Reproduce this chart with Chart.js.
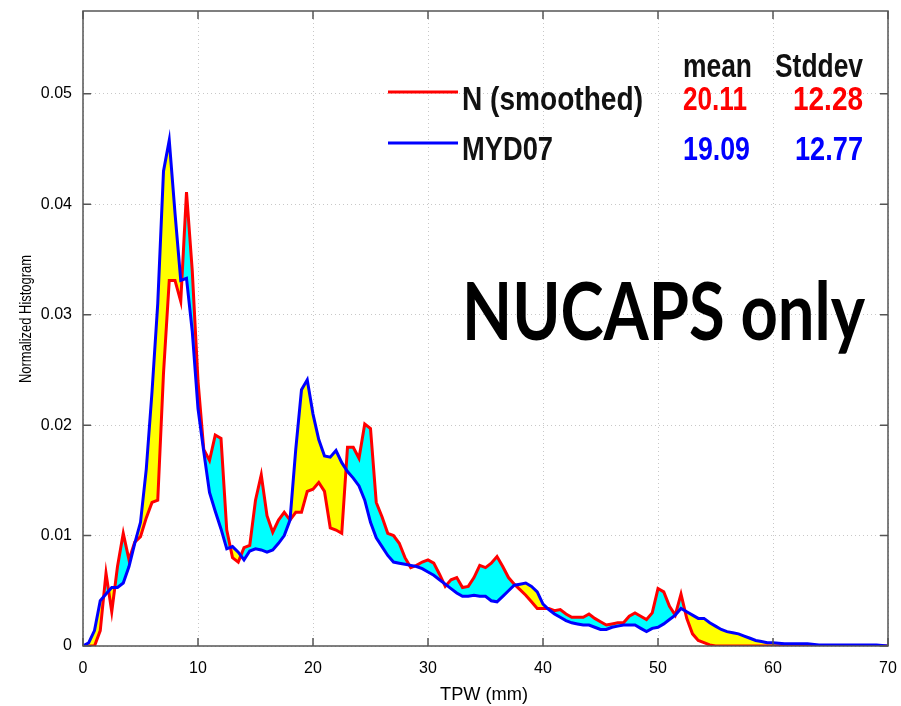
<!DOCTYPE html>
<html lang="en">
<head>
<meta charset="UTF-8">
<title>Normalized Histogram of TPW</title>
<script src="https://cdn.jsdelivr.net/npm/chart.js"></script>
<style>
  html, body { margin: 0; padding: 0; background: #fff; }
  #wrap { width: 901px; height: 706px; }
</style>
</head>
<body>
<div id="wrap"><canvas id="histChart" width="901" height="706"></canvas></div>
<script>
// TPW bins (mm)
const tpw = [
  0, 0.5, 1, 1.5, 2, 2.5, 3, 3.5, 4, 4.5,
  5, 5.5, 6, 6.5, 7, 7.5, 8, 8.5, 9, 9.5,
  10, 10.5, 11, 11.5, 12, 12.5, 13, 13.5, 14, 14.5,
  15, 15.5, 16, 16.5, 17, 17.5, 18, 18.5, 19, 19.5,
  20, 20.5, 21, 21.5, 22, 22.5, 23, 23.5, 24, 24.5,
  25, 25.5, 26, 26.5, 27, 27.5, 28, 28.5, 29, 29.5,
  30, 30.5, 31, 31.5, 32, 32.5, 33, 33.5, 34, 34.5,
  35, 35.5, 36, 36.5, 37, 37.5, 38, 38.5, 39, 39.5,
  40, 40.5, 41, 41.5, 42, 42.5, 43, 43.5, 44, 44.5,
  45, 45.5, 46, 46.5, 47, 47.5, 48, 48.5, 49, 49.5,
  50, 50.5, 51, 51.5, 52, 52.5, 53, 53.5, 54, 54.5,
  55, 55.5, 56, 56.5, 57, 57.5, 58, 58.5, 59, 59.5,
  60, 61, 62, 63, 64, 65, 66, 67, 68, 69, 70
];

// N (smoothed)
const nSmoothed = [
  0, 0, 0, 0.0014, 0.0066, 0.0031, 0.0072, 0.0102, 0.0078, 0.0094,
  0.0099, 0.0116, 0.0130, 0.0132, 0.0247, 0.0331, 0.0331, 0.0312, 0.0411, 0.0340,
  0.0240, 0.0178, 0.0168, 0.0191, 0.0188, 0.0105, 0.0080, 0.0076, 0.0089, 0.0091,
  0.0132, 0.0155, 0.0118, 0.0103, 0.0114, 0.0121, 0.0114, 0.0121, 0.0121, 0.0140,
  0.0142, 0.0148, 0.0140, 0.0107, 0.0105, 0.0102, 0.0180, 0.0180, 0.0170, 0.0201,
  0.0197, 0.0130, 0.0117, 0.0102, 0.0100, 0.0093, 0.0080, 0.0071, 0.0073, 0.0076,
  0.0078, 0.0075, 0.0065, 0.0054, 0.0060, 0.0062, 0.0053, 0.0054, 0.0062, 0.0073,
  0.0071, 0.0075, 0.0081, 0.0072, 0.0062, 0.0056, 0.0051, 0.0046, 0.0040, 0.0034,
  0.0034, 0.0034, 0.0032, 0.0033, 0.0029, 0.0026, 0.0026, 0.0026, 0.0029, 0.0025,
  0.0022, 0.0019, 0.0020, 0.0021, 0.0021, 0.0027, 0.0030, 0.0027, 0.0024, 0.0030,
  0.0052, 0.0049, 0.0036, 0.0028, 0.0047, 0.0025, 0.0011, 0.0005, 0.0003, 0.0001,
  0, 0, 0, 0, 0, 0, 0, 0, 0, 0,
  0, 0, 0, 0, 0, 0, 0, 0, 0, 0, 0
];

// MYD07
const myd07 = [
  0, 0.0003, 0.0014, 0.0041, 0.0047, 0.0053, 0.0053, 0.0057, 0.0072, 0.0093,
  0.0112, 0.0160, 0.0230, 0.0310, 0.0430, 0.0458, 0.0392, 0.0331, 0.0333, 0.0285,
  0.0215, 0.0176, 0.0139, 0.0122, 0.0106, 0.0088, 0.0090, 0.0085, 0.0078, 0.0086,
  0.0088, 0.0087, 0.0085, 0.0087, 0.0093, 0.0100, 0.0114, 0.0178, 0.0232, 0.0241,
  0.0210, 0.0187, 0.0172, 0.0171, 0.0177, 0.0166, 0.0158, 0.0152, 0.0145, 0.0132,
  0.0112, 0.0098, 0.0090, 0.0082, 0.0076, 0.0075, 0.0074, 0.0073, 0.0072, 0.0070,
  0.0067, 0.0064, 0.0060, 0.0056, 0.0052, 0.0048, 0.0045, 0.0045, 0.0046, 0.0045,
  0.0045, 0.0041, 0.0040, 0.0045, 0.0050, 0.0055, 0.0056, 0.0057, 0.0054, 0.0049,
  0.0038, 0.0033, 0.0029, 0.0026, 0.0023, 0.0021, 0.0020, 0.0019, 0.0019, 0.0017,
  0.0015, 0.0015, 0.0017, 0.0018, 0.0019, 0.0019, 0.0019, 0.0016, 0.0013, 0.0016,
  0.0017, 0.0020, 0.0024, 0.0028, 0.0034, 0.0031, 0.0028, 0.0025, 0.0025, 0.0021,
  0.0018, 0.0015, 0.0013, 0.0012, 0.0011, 0.0009, 0.0007, 0.0005, 0.0004, 0.0003,
  0.0003, 0.0002, 0.0002, 0.0002, 0.0001, 0.0001, 0.0001, 0.0001, 0.0001, 0.0001, 0
];

const seriesNames = ['N (smoothed)', 'MYD07'];
const statHeaders = ['mean', 'Stddev'];
const statMean = ['20.11', '19.09'];
const statStd = ['12.28', '12.77'];

const RED = '#ff0000';
const BLUE = '#0000ff';
const FONT = '"Liberation Sans", Arial, sans-serif';

Chart.defaults.font.family = FONT;
Chart.defaults.color = '#000';

// squeeze a string into a given width (figure text is horizontally compressed)
function fitText(ctx, text, x, y, w, align) {
  const natural = ctx.measureText(text).width;
  ctx.save();
  ctx.translate(align === 'right' ? x - w : x, y);
  ctx.scale(w / natural, 1);
  ctx.textAlign = 'left';
  ctx.fillText(text, 0, 0);
  ctx.restore();
}

// box with inward ticks, like the MATLAB axes
const frame = {
  id: 'frame',
  afterDatasetsDraw(chart) {
    const { ctx, chartArea: a, scales: { x, y } } = chart;
    ctx.save();
    ctx.strokeStyle = '#555';
    ctx.lineWidth = 1.5;
    ctx.beginPath();
    x.ticks.forEach(t => {
      const px = x.getPixelForValue(t.value);
      ctx.moveTo(px, a.bottom); ctx.lineTo(px, a.bottom - 8);
      ctx.moveTo(px, a.top); ctx.lineTo(px, a.top + 8);
    });
    y.ticks.forEach(t => {
      const py = y.getPixelForValue(t.value);
      ctx.moveTo(a.left, py); ctx.lineTo(a.left + 8, py);
      ctx.moveTo(a.right, py); ctx.lineTo(a.right - 8, py);
    });
    ctx.stroke();
    ctx.strokeRect(a.left, a.top, a.right - a.left, a.bottom - a.top);
    ctx.restore();
  }
};

// legend, stats table and labels
const notes = {
  id: 'notes',
  afterDraw(chart) {
    const ctx = chart.ctx;
    ctx.save();
    ctx.textBaseline = 'alphabetic';

    // legend lines
    ctx.lineWidth = 3;
    ctx.strokeStyle = RED;
    ctx.beginPath(); ctx.moveTo(388, 92); ctx.lineTo(458, 92); ctx.stroke();
    ctx.strokeStyle = BLUE;
    ctx.beginPath(); ctx.moveTo(388, 143); ctx.lineTo(458, 143); ctx.stroke();

    ctx.font = 'bold 34px ' + FONT;
    ctx.fillStyle = '#111';
    fitText(ctx, statHeaders[0], 683, 77, 69);
    fitText(ctx, statHeaders[1], 863, 77, 88, 'right');
    fitText(ctx, seriesNames[0], 462, 110, 181);
    fitText(ctx, seriesNames[1], 462, 160, 91);

    ctx.fillStyle = RED;
    fitText(ctx, statMean[0], 683, 110, 64);
    fitText(ctx, statStd[0], 863, 110, 70, 'right');
    ctx.fillStyle = BLUE;
    fitText(ctx, statMean[1], 683, 160, 67);
    fitText(ctx, statStd[1], 863, 160, 68, 'right');

    // big label
    ctx.fillStyle = '#000';
    ctx.font = 'bold 81px Lato, "Open Sans", sans-serif';
    fitText(ctx, 'NUCAPS only', 462, 340, 403);

    // axis titles
    ctx.font = '18px ' + FONT;
    fitText(ctx, 'TPW (mm)', 440, 700, 88);
    ctx.font = '17px ' + FONT;
    ctx.translate(31, 319);
    ctx.rotate(-Math.PI / 2);
    fitText(ctx, 'Normalized Histogram', -64, 0, 128);
    ctx.restore();
  }
};

const ctx = document.getElementById('histChart').getContext('2d');
new Chart(ctx, {
  type: 'line',
  data: {
    datasets: [
      {
        label: seriesNames[0],
        data: tpw.map((v, i) => ({ x: v, y: nSmoothed[i] })),
        borderColor: RED,
        borderWidth: 3,
        pointRadius: 0,
        tension: 0,
        order: 1,
        fill: { target: 1, above: 'rgb(0,255,255)', below: 'rgb(255,255,0)' }
      },
      {
        label: seriesNames[1],
        data: tpw.map((v, i) => ({ x: v, y: myd07[i] })),
        borderColor: BLUE,
        borderWidth: 3,
        pointRadius: 0,
        tension: 0,
        order: 0,
        fill: false
      }
    ]
  },
  options: {
    responsive: false,
    animation: false,
    layout: { padding: { top: 11, right: 13, left: 0, bottom: 0 } },
    plugins: {
      legend: { display: false },
      tooltip: { enabled: false }
    },
    scales: {
      x: {
        type: 'linear',
        min: 0,
        max: 70,
        afterFit(scale) {
          scale.height = 60;
          scale.paddingLeft = 0;
          scale.paddingRight = 0;
        },
        ticks: { stepSize: 10, padding: 13, font: { size: 16 }, maxRotation: 0 },
        grid: { color: '#c8c8c8', lineWidth: 1, drawTicks: false },
        border: { display: false, dash: [1, 3] }
      },
      y: {
        min: 0,
        max: 0.0575,
        afterFit(scale) {
          scale.width = 83;
          scale.paddingTop = 0;
          scale.paddingBottom = 0;
        },
        ticks: { stepSize: 0.01, includeBounds: false, padding: 11, font: { size: 16 } },
        grid: { color: '#c8c8c8', lineWidth: 1, drawTicks: false },
        border: { display: false, dash: [1, 3] }
      }
    }
  },
  plugins: [frame, notes]
});
</script>
</body>
</html>
